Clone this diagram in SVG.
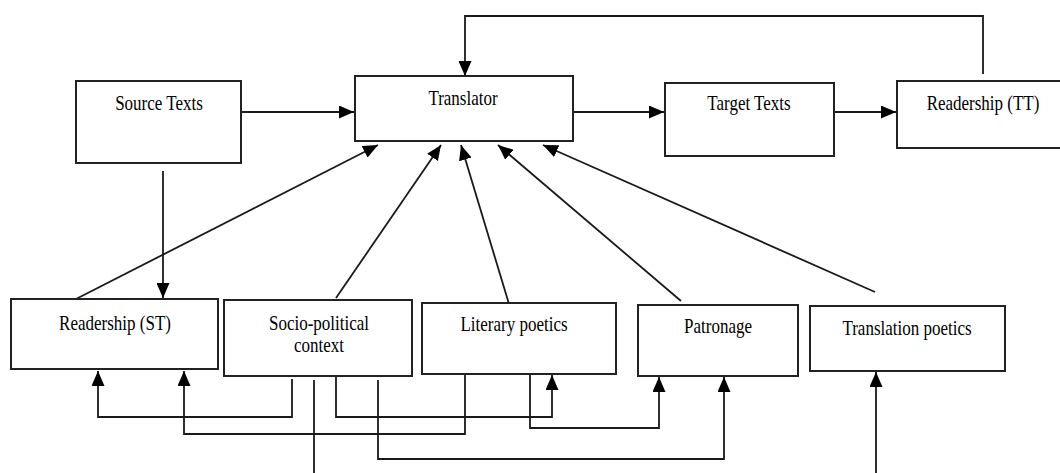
<svg xmlns="http://www.w3.org/2000/svg" width="1060" height="473" viewBox="0 0 1060 473">
<style>
.box{fill:#fff;stroke:#222;stroke-width:2}
.lbl{font-family:"Liberation Serif","Times New Roman",serif;font-size:17px;fill:#000;text-anchor:middle}
.c{fill:none;stroke:#1a1a1a;stroke-width:1.8}
</style>
<defs>
<marker id="ah" markerUnits="userSpaceOnUse" markerWidth="15" markerHeight="13" refX="15" refY="6.5" orient="auto" viewBox="0 0 15 13">
<path d="M0,0 L15,6.5 L0,13 z" fill="#000"/>
</marker>
</defs>
<rect width="1060" height="473" fill="#fff"/>
<g id="connectors">
<path class="c" d="M241,112 H354" marker-end="url(#ah)"/>
<path class="c" d="M573,112 H664" marker-end="url(#ah)"/>
<path class="c" d="M834,112 H896" marker-end="url(#ah)"/>
<path class="c" d="M983,74 V16 H465 V76" marker-end="url(#ah)"/>
<path class="c" d="M163,171 V298" marker-end="url(#ah)"/>
<path class="c" d="M76,299 L378,145" marker-end="url(#ah)"/>
<path class="c" d="M336,298 L441,145" marker-end="url(#ah)"/>
<path class="c" d="M509,304 L461,145" marker-end="url(#ah)"/>
<path class="c" d="M681,301 L498,145" marker-end="url(#ah)"/>
<path class="c" d="M875,292 L543,145" marker-end="url(#ah)"/>
<path class="c" d="M292,379 V417 H98 V371" marker-end="url(#ah)"/>
<path class="c" d="M465,375 V434 H184 V371" marker-end="url(#ah)"/>
<path class="c" d="M336,377 V417 H552 V375" marker-end="url(#ah)"/>
<path class="c" d="M530,375 V428 H659 V377" marker-end="url(#ah)"/>
<path class="c" d="M378,380 V459 H724 V377" marker-end="url(#ah)"/>
<path class="c" d="M314,380 V473"/>
<path class="c" d="M876,473 V372" marker-end="url(#ah)"/>
</g>
<g id="source-texts">
<rect class="box" x="76" y="81" width="165" height="82"/>
<text class="lbl" transform="translate(159,110) scale(1,1.2)">Source Texts</text>
</g>
<g id="translator">
<rect class="box" x="355" y="76" width="218" height="65"/>
<text class="lbl" transform="translate(463,105) scale(1,1.2)">Translator</text>
</g>
<g id="target-texts">
<rect class="box" x="665" y="83" width="169" height="73"/>
<text class="lbl" transform="translate(749,110) scale(1,1.2)">Target Texts</text>
</g>
<g id="readership-tt">
<rect class="box" x="897" y="81" width="200" height="67"/>
<text class="lbl" transform="translate(983,110) scale(1,1.2)">Readership (TT)</text>
</g>
<g id="readership-st">
<rect class="box" x="11" y="299" width="207" height="70"/>
<text class="lbl" transform="translate(115,330) scale(1,1.2)">Readership (ST)</text>
</g>
<g id="socio-political">
<rect class="box" x="224" y="300" width="188" height="76"/>
<text class="lbl" transform="translate(319,330) scale(1,1.2)">Socio-political</text>
<text class="lbl" transform="translate(319,352) scale(1,1.2)">context</text>
</g>
<g id="literary-poetics">
<rect class="box" x="422" y="303" width="194" height="71"/>
<text class="lbl" transform="translate(514,331) scale(1,1.2)">Literary poetics</text>
</g>
<g id="patronage">
<rect class="box" x="638" y="305" width="160" height="71"/>
<text class="lbl" transform="translate(718,333) scale(1,1.2)">Patronage</text>
</g>
<g id="translation-poetics">
<rect class="box" x="810" y="306" width="195" height="65"/>
<text class="lbl" transform="translate(907,335) scale(1,1.2)">Translation poetics</text>
</g>
</svg>
